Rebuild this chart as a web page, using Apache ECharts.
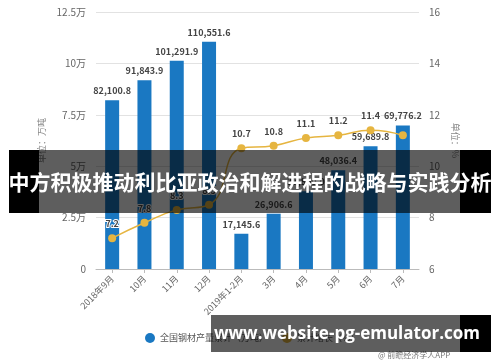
<!DOCTYPE html>
<html><head><meta charset="utf-8">
<script src="https://cdn.jsdelivr.net/npm/echarts@6/dist/echarts.min.js"></script>
<style>html,body{margin:0;padding:0;background:#fff}#c{width:500px;height:362px}</style>
</head><body><div id="c"></div>
<script>
const categories = ['2018年9月','10月','11月','12月','2019年1-2月','3月','4月','5月','6月','7月'];
const outputValues = [82100.8, 91843.9, 101291.9, 110551.6, 17145.6, 26906.6, 37800.0, 48036.4, 59689.8, 69776.2];
const growthValues = [7.2, 7.8, 8.3, 8.5, 10.7, 10.8, 11.1, 11.2, 11.4, 11.2];
const leftTicks = ['0','2.5万','5万','7.5万','10万','12.5万'];
const seriesNames = ['全国钢材产量累计（万吨）','累计增长（%）'];
const titleText = '中方积极推动利比亚政治和解进程的战略与实践分析';
const siteText = 'www.website-pg-emulator.com';
const sourceText = '@ 前瞻经济学人APP';

const FONT = '"Noto Sans CJK SC", "Noto Sans", sans-serif';
const chart = echarts.init(document.getElementById('c'), null, {renderer:'canvas'});
const fmt = v => v.toLocaleString('en-US', {minimumFractionDigits:1, maximumFractionDigits:1});
chart.setOption({
  animation:false,
  textStyle:{fontFamily:FONT},
  grid:{left:96, right:81, top:12, bottom:93, containLabel:false},
  legend:{
    data:seriesNames, left:140, top:328, icon:'circle', itemWidth:10, itemHeight:10, itemGap:14,
    textStyle:{fontSize:9, color:'#555', fontFamily:FONT}
  },
  xAxis:{
    type:'category', data:categories,
    axisLine:{lineStyle:{color:'#bbb'}},
    axisTick:{show:true, alignWithLabel:true, length:4, lineStyle:{color:'#bbb'}},
    axisLabel:{rotate:45, fontSize:9, color:'#666', margin:8, interval:0}
  },
  yAxis:[
    {type:'value', min:0, max:125000, interval:25000,
     name:'单位：万吨', nameLocation:'middle', nameGap:40, nameRotate:90,
     nameTextStyle:{fontSize:9, color:'#888'},
     axisLabel:{fontSize:10, color:'#666', margin:10, formatter:(v,i)=>leftTicks[Math.round(v/25000)]},
     axisLine:{show:false}, axisTick:{show:false},
     splitLine:{lineStyle:{color:'#e2e2e2'}}},
    {type:'value', min:6, max:16, interval:2,
     name:'单位：%', nameLocation:'middle', nameGap:23, nameRotate:-90,
     nameTextStyle:{fontSize:9, color:'#888'},
     axisLabel:{fontSize:10, color:'#666', margin:10},
     axisLine:{show:false}, axisTick:{show:false}, splitLine:{show:false}}
  ],
  series:[
    {name:seriesNames[0], type:'bar', data:outputValues, barWidth:14, yAxisIndex:0,
     itemStyle:{color:'#1a78c2'},
     label:{show:true, position:'top', distance:5, fontSize:9, fontWeight:'bold', color:'#444',
       formatter:p=>fmt(p.value)}},
    {name:seriesNames[1], type:'line', data:growthValues, yAxisIndex:1, smooth:true,
     symbol:'circle', symbolSize:8,
     lineStyle:{color:'#e6b540', width:1.5}, itemStyle:{color:'#e6b540'},
     label:{show:true, position:'top', distance:6, fontSize:9, fontWeight:'bold', color:'#444',
       textBorderColor:'#fff', textBorderWidth:2,
       formatter:p=> p.dataIndex===growthValues.length-1 ? '' : p.value.toFixed(1)}}
  ],
  graphic:[
    {type:'rect', shape:{x:9,y:150,width:482,height:63}, style:{fill:'rgba(0,0,0,0.63)'}, z:100},
    {type:'rect', shape:{x:9,y:150,width:30,height:63}, style:{fill:'#000'}, z:100},
    {type:'rect', shape:{x:460,y:150,width:31,height:63}, style:{fill:'#000'}, z:100},
    {type:'text', x:250, y:182, z:101, style:{text:titleText, fill:'#fff', font:'bold 21px '+FONT, textAlign:'center', textVerticalAlign:'middle'}},
    {type:'text', x:378, y:355, z:99, style:{text:sourceText, fill:'#777', font:'8px '+FONT, textAlign:'left', textVerticalAlign:'middle'}},
    {type:'rect', shape:{x:211,y:315,width:280,height:37}, style:{fill:'rgba(0,0,0,0.63)'}, z:100},
    {type:'rect', shape:{x:460,y:315,width:31,height:37}, style:{fill:'#000'}, z:100},
    {type:'text', x:347, y:334, z:101, style:{text:siteText, fill:'#fff', font:'bold 17px "Open Sans", "DejaVu Sans", sans-serif', textAlign:'center', textVerticalAlign:'middle'}}
  ]
});
</script></body></html>
